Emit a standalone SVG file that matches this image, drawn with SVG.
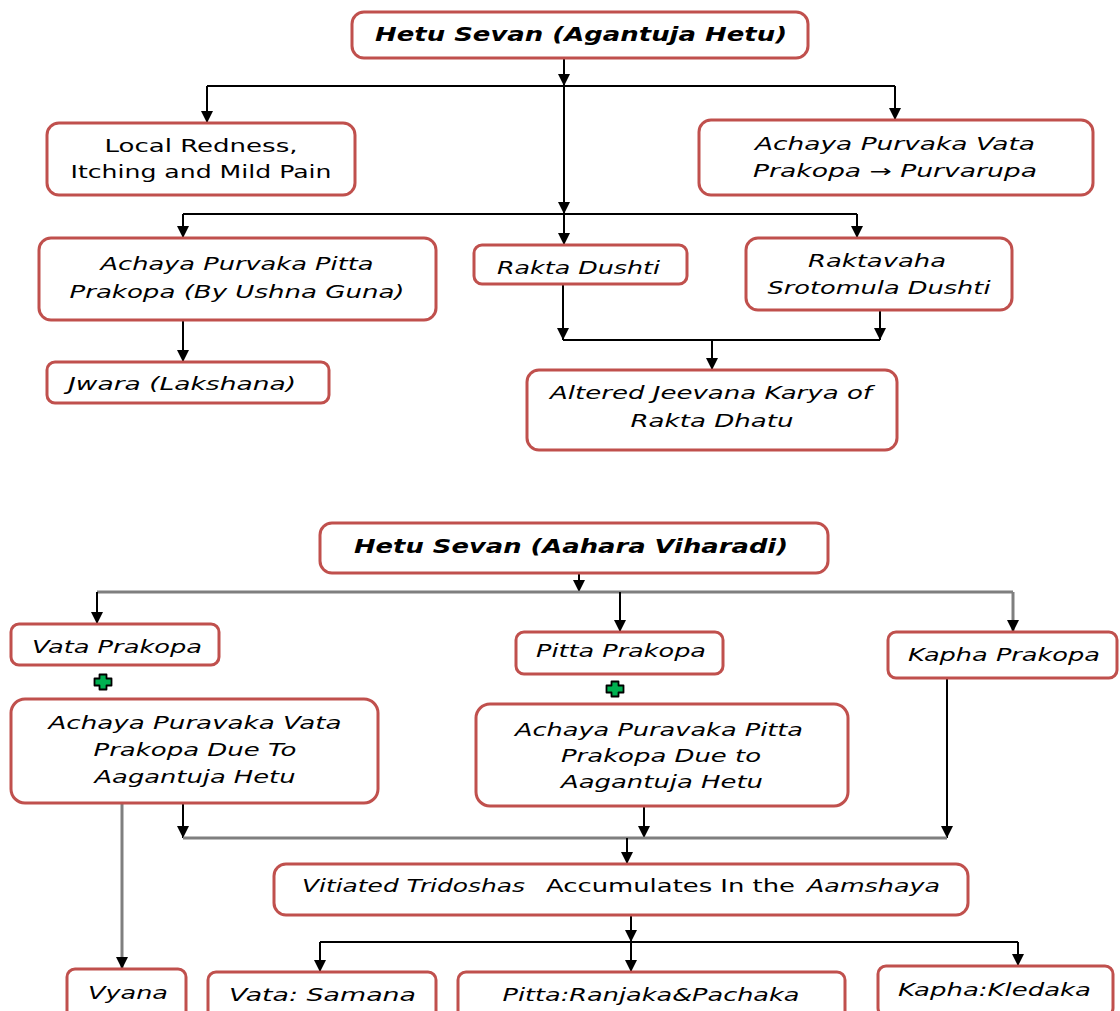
<svg xmlns="http://www.w3.org/2000/svg" width="1120" height="1011" viewBox="0 0 1120 1011">
<defs>
<style>
.box{fill:#ffffff;stroke:#c0504d;stroke-width:3}
.t{font-family:"DejaVu Sans","Liberation Sans",sans-serif;font-size:17px;fill:#000}
.i{font-style:italic}
.b{font-weight:bold;font-size:19px}
.c{stroke:#000;stroke-width:2;fill:none}
.g{stroke:#7f7f7f;stroke-width:3;fill:none}
.plus{fill:#00b050;stroke:#000;stroke-width:1.8;stroke-linejoin:round}
</style>
<marker id="ah" markerUnits="userSpaceOnUse" markerWidth="12" markerHeight="12" refX="12" refY="6" orient="auto">
<path d="M0,0 L12,6 L0,12 z" fill="#000"/>
</marker>
<path id="pl" d="M-3.5,-7.5 H3.5 V-3.5 H8.5 V3.5 H3.5 V7.5 H-3.5 V3.5 H-8.5 V-3.5 H-3.5 Z"/>
</defs>
<rect width="1120" height="1011" fill="#ffffff"/>

<g id="connectors">
<path class="c" d="M564,58 V86" marker-end="url(#ah)"/>
<path class="c" d="M207,86 H895"/>
<path class="c" d="M207,86 V123" marker-end="url(#ah)"/>
<path class="c" d="M895,86 V120" marker-end="url(#ah)"/>
<path class="c" d="M564,86 V214" marker-end="url(#ah)"/>
<path class="c" d="M183,214 H857"/>
<path class="c" d="M183,214 V238" marker-end="url(#ah)"/>
<path class="c" d="M564,214 V245" marker-end="url(#ah)"/>
<path class="c" d="M857,214 V238" marker-end="url(#ah)"/>
<path class="c" d="M183,320 V362" marker-end="url(#ah)"/>
<path class="c" d="M563,284 V340" marker-end="url(#ah)"/>
<path class="c" d="M880,310 V340" marker-end="url(#ah)"/>
<path class="c" d="M563,340 H880"/>
<path class="c" d="M712,340 V370" marker-end="url(#ah)"/>

<path class="c" d="M579,573 V592" marker-end="url(#ah)"/>
<path class="g" d="M97,592 H1013"/>
<path class="c" d="M97,592 V624" marker-end="url(#ah)"/>
<path class="c" d="M620,592 V632" marker-end="url(#ah)"/>
<path class="g" d="M1013,592 V632" marker-end="url(#ah)"/>
<path class="g" d="M122,803 V969" marker-end="url(#ah)"/>
<path class="c" d="M183,803 V838" marker-end="url(#ah)"/>
<path class="c" d="M644,806 V838" marker-end="url(#ah)"/>
<path class="c" d="M947,678 V838" marker-end="url(#ah)"/>
<path class="g" d="M183,838 H947"/>
<path class="c" d="M627,838 V864" marker-end="url(#ah)"/>
<path class="c" d="M631,915 V942" marker-end="url(#ah)"/>
<path class="c" d="M631,942 V972" marker-end="url(#ah)"/>
<path class="c" d="M320,942 H1018"/>
<path class="c" d="M320,942 V972" marker-end="url(#ah)"/>
<path class="c" d="M1018,942 V966" marker-end="url(#ah)"/>
</g>

<g id="n-top">
<rect class="box" x="352" y="12" width="456" height="46" rx="12"/>
<text class="t i b" x="581" y="41" text-anchor="middle" textLength="412" lengthAdjust="spacingAndGlyphs">Hetu Sevan (Agantuja Hetu)</text>
</g>
<g id="n-local">
<rect class="box" x="47" y="123" width="308" height="72" rx="12"/>
<text class="t" x="201" y="152" text-anchor="middle" textLength="193" lengthAdjust="spacingAndGlyphs">Local Redness,</text>
<text class="t" x="201" y="178" text-anchor="middle" textLength="261" lengthAdjust="spacingAndGlyphs">Itching and Mild Pain</text>
</g>
<g id="n-achvata">
<rect class="box" x="699" y="120" width="394" height="75" rx="12"/>
<text class="t i" x="895" y="150" text-anchor="middle" textLength="280" lengthAdjust="spacingAndGlyphs">Achaya Purvaka Vata</text>
<text class="t i" x="895" y="177" text-anchor="middle" textLength="284" lengthAdjust="spacingAndGlyphs">Prakopa → Purvarupa</text>
</g>
<g id="n-achpitta">
<rect class="box" x="39" y="238" width="397" height="82" rx="12"/>
<text class="t i" x="237" y="270" text-anchor="middle" textLength="273" lengthAdjust="spacingAndGlyphs">Achaya Purvaka Pitta</text>
<text class="t i" x="237" y="298" text-anchor="middle" textLength="335" lengthAdjust="spacingAndGlyphs">Prakopa (By Ushna Guna)</text>
</g>
<g id="n-rakta">
<rect class="box" x="474" y="245" width="213" height="39" rx="8"/>
<text class="t i" x="497" y="274" textLength="163" lengthAdjust="spacingAndGlyphs">Rakta Dushti</text>
</g>
<g id="n-raktavaha">
<rect class="box" x="746" y="238" width="266" height="72" rx="12"/>
<text class="t i" x="877" y="267" text-anchor="middle" textLength="138" lengthAdjust="spacingAndGlyphs">Raktavaha</text>
<text class="t i" x="879" y="294" text-anchor="middle" textLength="223" lengthAdjust="spacingAndGlyphs">Srotomula Dushti</text>
</g>
<g id="n-jwara">
<rect class="box" x="47" y="362" width="282" height="41" rx="8"/>
<text class="t i" x="68" y="390" textLength="228" lengthAdjust="spacingAndGlyphs">Jwara (Lakshana)</text>
</g>
<g id="n-altered">
<rect class="box" x="527" y="370" width="370" height="80" rx="12"/>
<text class="t i" x="711" y="399" text-anchor="middle" textLength="322" lengthAdjust="spacingAndGlyphs">Altered Jeevana Karya of</text>
<text class="t i" x="712" y="427" text-anchor="middle" textLength="163" lengthAdjust="spacingAndGlyphs">Rakta Dhatu</text>
</g>

<g id="n-hetu2">
<rect class="box" x="320" y="523" width="508" height="50" rx="12"/>
<text class="t i b" x="571" y="553" text-anchor="middle" textLength="434" lengthAdjust="spacingAndGlyphs">Hetu Sevan (Aahara Viharadi)</text>
</g>
<g id="n-vatap">
<rect class="box" x="11" y="624" width="208" height="41" rx="8"/>
<text class="t i" x="32" y="653" textLength="170" lengthAdjust="spacingAndGlyphs">Vata Prakopa</text>
</g>
<g id="n-pittap">
<rect class="box" x="516" y="632" width="207" height="42" rx="8"/>
<text class="t i" x="536" y="657" textLength="170" lengthAdjust="spacingAndGlyphs">Pitta Prakopa</text>
</g>
<g id="n-kaphap">
<rect class="box" x="888" y="632" width="229" height="46" rx="8"/>
<text class="t i" x="908" y="661" textLength="192" lengthAdjust="spacingAndGlyphs">Kapha Prakopa</text>
</g>
<g id="n-plus1"><use href="#pl" class="plus" x="103" y="682"/></g>
<g id="n-plus2"><use href="#pl" class="plus" x="615" y="689"/></g>
<g id="n-achvata2">
<rect class="box" x="11" y="699" width="367" height="104" rx="14"/>
<text class="t i" x="195" y="729" text-anchor="middle" textLength="293" lengthAdjust="spacingAndGlyphs">Achaya Puravaka Vata</text>
<text class="t i" x="195" y="756" text-anchor="middle" textLength="203" lengthAdjust="spacingAndGlyphs">Prakopa Due To</text>
<text class="t i" x="195" y="783" text-anchor="middle" textLength="201" lengthAdjust="spacingAndGlyphs">Aagantuja Hetu</text>
</g>
<g id="n-achpitta2">
<rect class="box" x="476" y="704" width="372" height="102" rx="14"/>
<text class="t i" x="659" y="736" text-anchor="middle" textLength="288" lengthAdjust="spacingAndGlyphs">Achaya Puravaka Pitta</text>
<text class="t i" x="661" y="762" text-anchor="middle" textLength="200" lengthAdjust="spacingAndGlyphs">Prakopa Due to</text>
<text class="t i" x="662" y="788" text-anchor="middle" textLength="202" lengthAdjust="spacingAndGlyphs">Aagantuja Hetu</text>
</g>
<g id="n-vitiated">
<rect class="box" x="274" y="864" width="694" height="51" rx="12"/>
<text class="t i" x="302" y="892" textLength="223" lengthAdjust="spacingAndGlyphs">Vitiated Tridoshas</text>
<text class="t" x="546" y="892" textLength="249" lengthAdjust="spacingAndGlyphs">Accumulates In the</text>
<text class="t i" x="807" y="892" textLength="133" lengthAdjust="spacingAndGlyphs">Aamshaya</text>
</g>
<g id="n-vyana">
<rect class="box" x="67" y="969" width="119" height="50" rx="8"/>
<text class="t i" x="88" y="999" textLength="80" lengthAdjust="spacingAndGlyphs">Vyana</text>
</g>
<g id="n-vatas">
<rect class="box" x="208" y="972" width="228" height="50" rx="8"/>
<text class="t i" x="229" y="1001" textLength="187" lengthAdjust="spacingAndGlyphs">Vata: Samana</text>
</g>
<g id="n-pittar">
<rect class="box" x="458" y="972" width="387" height="50" rx="8"/>
<text class="t i" x="651" y="1001" text-anchor="middle" textLength="297" lengthAdjust="spacingAndGlyphs">Pitta:Ranjaka&amp;Pachaka</text>
</g>
<g id="n-kaphak">
<rect class="box" x="878" y="966" width="235" height="50" rx="8"/>
<text class="t i" x="898" y="996" textLength="193" lengthAdjust="spacingAndGlyphs">Kapha:Kledaka</text>
</g>
</svg>
